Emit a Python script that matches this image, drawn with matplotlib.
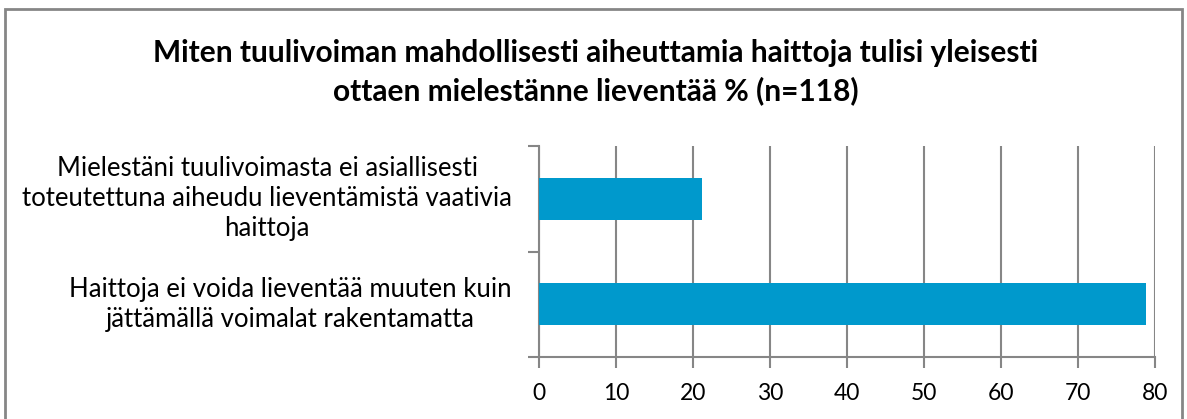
import matplotlib.pyplot as plt
from matplotlib.patches import Rectangle

# --- Data ---
categories = [
    "Haittoja ei voida lieventää muuten kuin\njättämällä voimalat rakentamatta",
    "Mielestäni tuulivoimasta ei asiallisesti\ntoteutettuna aiheudu lieventämistä vaativia\nhaittoja",
]
values = [78.8, 21.2]
xticks = [0, 10, 20, 30, 40, 50, 60, 70, 80]
title = ("Miten tuulivoiman mahdollisesti aiheuttamia haittoja tulisi yleisesti\n"
         "ottaen mielestänne lieventää % (n=118)")

plt.rcParams['font.family'] = ['Lato', 'DejaVu Sans']

fig = plt.figure(figsize=(11.87, 4.19), dpi=100)
ax = fig.add_axes([539 / 1187, 1 - 357 / 419, 616 / 1187, 211 / 419])

grid_c = '#868686'
ax.barh(range(len(values)), values, height=0.4, color='#0099CC', zorder=3)

ax.set_xlim(0, 80)
ax.set_ylim(-0.5, 1.5)
ax.set_xticks(xticks)
ax.set_yticks([-0.5, 0.5, 1.5])
ax.set_yticklabels([])
ax.tick_params(axis='x', length=8, width=1.5, color=grid_c, labelsize=16.5, pad=11)
ax.tick_params(axis='y', length=8, width=1.5, color=grid_c)
ax.grid(axis='x', color=grid_c, linewidth=1.5, zorder=0)
for s in ['top', 'right']:
    ax.spines[s].set_visible(False)
for s in ['left', 'bottom']:
    ax.spines[s].set_color(grid_c)
    ax.spines[s].set_linewidth(1.5)

for i, lab in enumerate(categories):
    ax.text(-3.5, i, lab, ha='right', va='center', ma='center', fontsize=18.5,
            linespacing=1.25, transform=ax.transData)

fig.text(0.502, 1 - 72 / 419, title, ha='center', va='center', fontsize=21.5,
         fontweight='bold', linespacing=1.4)

fig.patches.append(Rectangle((5 / 1187, -0.05), 1177 / 1187, 1 - 9 / 419 + 0.05,
                             transform=fig.transFigure, fill=False,
                             edgecolor='#868686', linewidth=2))

fig.savefig('out.png', dpi=100)
